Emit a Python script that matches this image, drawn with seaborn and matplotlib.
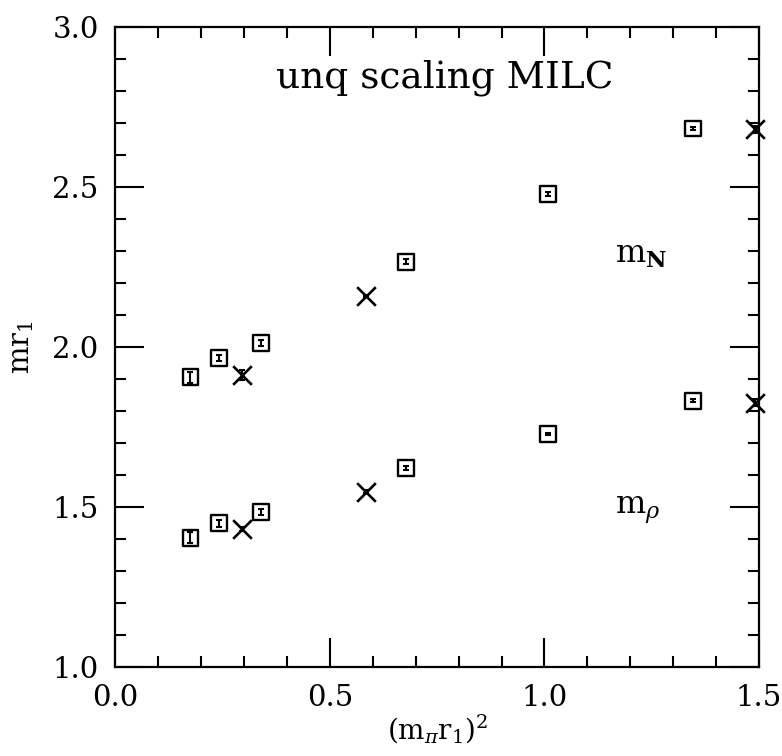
import matplotlib
matplotlib.use("Agg")
import matplotlib.pyplot as plt
import seaborn as sns
import numpy as np
import pandas as pd
from matplotlib.ticker import MultipleLocator

sns.set_theme(style="ticks")
plt.rcParams['font.family'] = ['DejaVu Serif']
plt.rcParams['mathtext.fontset'] = 'dejavuserif'
plt.rcParams['text.color'] = 'black'
plt.rcParams['axes.labelcolor'] = 'black'

# nucleon (m_N) data
n_sq_x = [0.175, 0.242, 0.339, 0.677, 1.008, 1.347]
n_sq_y = [1.905, 1.965, 2.013, 2.266, 2.479, 2.683]
n_sq_err = [0.018, 0.010, 0.010, 0.008, 0.006, 0.006]
n_x_x = [0.294, 0.583, 1.491]
n_x_y = [1.912, 2.160, 2.680]
n_x_err = [0.015, 0.004, 0.010]

# rho (m_rho) data
r_sq_x = [0.175, 0.242, 0.339, 0.677, 1.008, 1.347]
r_sq_y = [1.404, 1.449, 1.485, 1.621, 1.728, 1.832]
r_sq_err = [0.018, 0.010, 0.010, 0.006, 0.004, 0.004]
r_x_x = [0.294, 0.583, 1.491]
r_x_y = [1.432, 1.548, 1.826]
r_x_err = [0.006, 0.004, 0.010]

fig = plt.figure(figsize=(7.82, 7.56), dpi=100)
ax = fig.add_axes([0.1475, 0.1177, 0.8231, 0.8466])

sq = pd.DataFrame({"x": n_sq_x + r_sq_x, "y": n_sq_y + r_sq_y,
                   "e": n_sq_err + r_sq_err})
cr = pd.DataFrame({"x": n_x_x + r_x_x, "y": n_x_y + r_x_y,
                   "e": n_x_err + r_x_err})

ax.errorbar(sq["x"], sq["y"], yerr=sq["e"], fmt='none', ecolor='black',
            elinewidth=1.5, capsize=2.5, capthick=1.5, zorder=3)
ax.errorbar(cr["x"], cr["y"], yerr=cr["e"], fmt='none', ecolor='black',
            elinewidth=1.5, capsize=2.5, capthick=1.5, zorder=3, clip_on=False)

sns.scatterplot(data=sq, x="x", y="y", marker='s', s=130, facecolor='none',
                edgecolor='black', linewidth=1.7, ax=ax, zorder=4)
sns.scatterplot(data=cr, x="x", y="y", marker='x', s=180, color='black',
                linewidth=1.9, ax=ax, zorder=4, clip_on=False)

ax.set_xlim(0.0, 1.5)
ax.set_ylim(1.0, 3.0)
ax.xaxis.set_major_locator(MultipleLocator(0.5))
ax.xaxis.set_minor_locator(MultipleLocator(0.1))
ax.yaxis.set_major_locator(MultipleLocator(0.5))
ax.yaxis.set_minor_locator(MultipleLocator(0.1))
ax.xaxis.set_major_formatter(matplotlib.ticker.FormatStrFormatter('%.1f'))
ax.yaxis.set_major_formatter(matplotlib.ticker.FormatStrFormatter('%.1f'))

ax.tick_params(which='both', direction='in', top=True, right=True,
               color='black', width=1.5, labelsize=21, labelcolor='black')
ax.tick_params(which='major', length=21, pad=12)
ax.tick_params(which='minor', length=8)
for sp in ax.spines.values():
    sp.set_linewidth(1.6)
    sp.set_color('black')

ax.set_xlabel(r'(m$_\pi$r$_1$)$^2$', fontsize=20, labelpad=1)
ax.set_ylabel(r'mr$_1$', fontsize=21, labelpad=12)

ax.text(0.511, 0.92, 'unq scaling MILC', transform=ax.transAxes,
        ha='center', va='center', fontsize=27)
ax.text(1.165, 2.29, r'm$_\mathbf{N}$', fontsize=23, ha='left', va='center')
ax.text(1.165, 1.49, r'm$_\rho$', fontsize=23, ha='left', va='center')

fig.savefig('out.png', dpi=100)
